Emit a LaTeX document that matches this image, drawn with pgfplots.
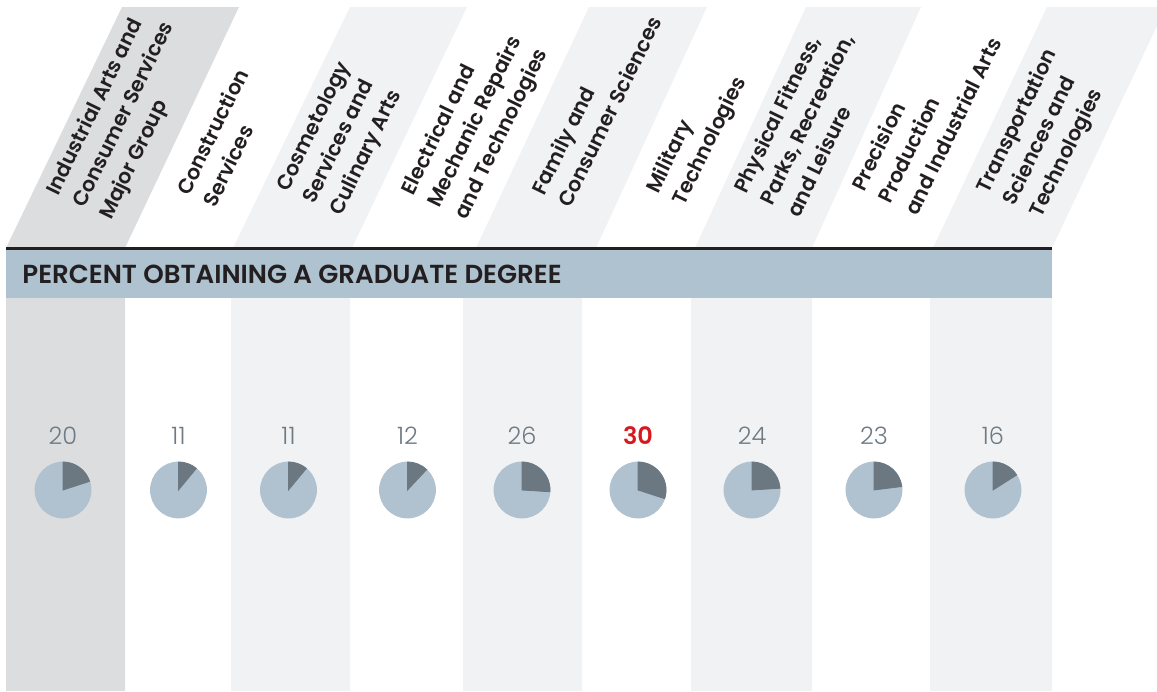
\documentclass[border=0pt]{standalone}
\usepackage{pgfplots}
\usepackage{pgfplotstable}
\pgfplotsset{compat=1.18}
\usepackage{fontspec}
\setmainfont{Poppins}
\newfontfamily\labfont{Poppins SemiBold}
\newfontfamily\hdfont{Poppins SemiBold}
\newfontfamily\numfont{Poppins Light}
\definecolor{colgray}{HTML}{DCDDDF}
\definecolor{collight}{HTML}{F1F2F4}
\definecolor{band}{HTML}{AFC2D0}
\definecolor{ink}{HTML}{231F20}
\definecolor{pielight}{HTML}{B0C2CF}
\definecolor{piedark}{HTML}{6B7881}
\definecolor{numgray}{HTML}{6E7A84}
\definecolor{hlred}{HTML}{D7191F}

\pgfplotstableread{
x y v hl
63 490 20 0
178.5 490 11 0
288.5 490 11 0
407.5 490 12 0
522 490 26 0
638 490 30 1
752 490 24 0
874 490 23 0
993 490 16 0
}\piedata

\begin{document}
\begin{tikzpicture}[
  lab/.style={anchor=base west, rotate=64, inner sep=0pt,
    font=\labfont\fontsize{10.3}{14}\selectfont, text=ink},
]
\begin{axis}[
  width=578.5pt, height=345.5pt, scale only axis,
  xmin=0, xmax=1157, ymin=0, ymax=691, y dir=reverse,
  hide axis, clip=false,
  /pgf/number format/assume math mode=true,
]
% full canvas (keeps the picture's bounding box)
\addplot[draw=none, mark=none] coordinates {(0,0) (1157,0) (1157,691) (0,691)} -- cycle;
% columns with slanted header stripes
\addplot[fill=colgray, draw=none, mark=none] coordinates {(6,691) (6,248) (122,7) (239,7) (125,248) (125,691)} -- cycle;
\addplot[fill=collight, draw=none, mark=none] coordinates {(231,691) (231,250) (233,248) (350,7) (467,7) (352,248) (350,250) (350,691)} -- cycle;
\addplot[fill=collight, draw=none, mark=none] coordinates {(463,691) (463,250) (476,248) (589,7) (707,7) (596,248) (582,250) (582,691)} -- cycle;
\addplot[fill=collight, draw=none, mark=none] coordinates {(691,691) (691,250) (695,248) (806,7) (921,7) (812,248) (812,691)} -- cycle;
\addplot[fill=collight, draw=none, mark=none] coordinates {(930,691) (930,250) (933,248) (1047,7) (1157,7) (1157,26) (1052,248) (1052,691)} -- cycle;
% header band
\addplot[fill=band, draw=none, mark=none] coordinates {(6,250) (1052,250) (1052,298) (6,298)} -- cycle;
\addplot[draw=ink, line width=1.5pt, mark=none] coordinates {(6,248.5) (1052,248.5)};
\node[anchor=base west, inner sep=0pt, font=\hdfont\fontsize{13.05}{14}\selectfont, text=ink] at (axis cs:22,283) {PERCENT OBTAINING A GRADUATE DEGREE};

% pies
\addplot[scatter, only marks, mark=*, mark size=0.5pt, point meta=explicit,
  visualization depends on={\thisrow{v} \as \pval},
  scatter/@pre marker code/.code={%
    \fill[pielight] (0,0) circle[radius=14pt];
    \fill[piedark] (0,0) -- (0,14pt) arc[start angle=90, end angle={90-3.6*\pval}, radius=14pt] -- cycle;
    \pgfscope\pgfsetfillopacity{0}\pgfsetstrokeopacity{0}%
  },
  scatter/@post marker code/.code={\endpgfscope},
] table[x=x, y=y, meta=v] {\piedata};

% values
\addplot[draw=none, mark=none, point meta=explicit,
  restrict expr to domain={\thisrow{hl}}{-0.5:0.5},
  nodes near coords,
  every node near coord/.append style={anchor=base, yshift=23pt, inner sep=0pt,
    font=\numfont\fontsize{12}{14}\selectfont, text=numgray},
] table[x=x, y=y, meta=v] {\piedata};
\addplot[draw=none, mark=none, point meta=explicit,
  restrict expr to domain={\thisrow{hl}}{0.5:1.5},
  nodes near coords,
  every node near coord/.append style={anchor=base, yshift=23pt, inner sep=0pt,
    font=\hdfont\fontsize{12}{14}\selectfont, text=hlred},
] table[x=x, y=y, meta=v] {\piedata};

% category labels
\node[lab] at (axis cs:58,197) {Industrial Arts and};
\node[lab] at (axis cs:84.5,209) {Consumer Services};
\node[lab] at (axis cs:111,221) {Major Group};
\node[lab] at (axis cs:189,197) {Construction};
\node[lab] at (axis cs:215.5,209) {Services};
\node[lab] at (axis cs:288,193) {Cosmetology};
\node[lab] at (axis cs:314.5,205) {Services and};
\node[lab] at (axis cs:341,217) {Culinary Arts};
\node[lab] at (axis cs:413,197) {Electrical and};
\node[lab] at (axis cs:439.5,209) {Mechanic Repairs};
\node[lab] at (axis cs:466,221) {and Technologies};
\node[lab] at (axis cs:544,197) {Family and};
\node[lab] at (axis cs:570.5,209) {Consumer Sciences};
\node[lab] at (axis cs:658,195) {Military};
\node[lab] at (axis cs:684.5,207) {Technologies};
\node[lab] at (axis cs:746,195) {Physical Fitness,};
\node[lab] at (axis cs:772.5,207) {Parks, Recreation,};
\node[lab] at (axis cs:799,219) {and Leisure};
\node[lab] at (axis cs:864,193) {Precision};
\node[lab] at (axis cs:890.5,205) {Production};
\node[lab] at (axis cs:917,217) {and Industrial Arts};
\node[lab] at (axis cs:988,195) {Transportation};
\node[lab] at (axis cs:1014.5,207) {Sciences and};
\node[lab] at (axis cs:1041,219) {Technologies};
\end{axis}
\end{tikzpicture}
\end{document}
